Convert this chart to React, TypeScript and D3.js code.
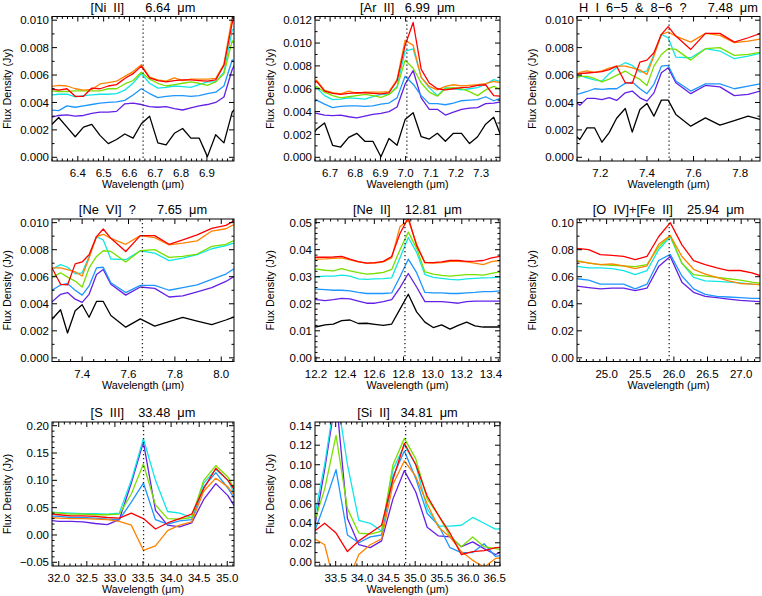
import React from "react";
import * as d3 from "d3";

const W = 762;
const H = 596;
const FONT = "'Liberation Sans', Arial, Helvetica, sans-serif";

// line colours, faintest (black) to brightest (red)
const seriesColors = ["#000000", "#6420e6", "#1e96ff", "#10e6e6", "#78e000", "#ff8200", "#ff0000"];

// ---- SL2 spectrum (used by [Ni II] and [Ar II]), flux in mJy ----
const wlSL2 = [6.294, 6.326, 6.358, 6.39, 6.422, 6.454, 6.486, 6.518, 6.55, 6.582, 6.614, 6.646, 6.678, 6.71, 6.742, 6.774, 6.806, 6.838, 6.87, 6.902, 6.934, 6.966, 6.998, 7.03, 7.062, 7.094, 7.126, 7.158, 7.19, 7.222, 7.254, 7.286, 7.318, 7.35, 7.382];
const sl2Black = [2.3, 2.9, 2.2, 1.5, 2.2, 2.4, 1.6, 1.0, 1.3, 1.7, 1.4, 2.45, 3.0, 1.05, 0.9, 1.75, 2.1, 1.4, 1.4, 0.05, 1.65, 1.05, 3.3, 3.9, 1.8, 1.6, 2.1, 1.4, 2.1, 2.1, 1.2, 1.8, 2.9, 3.5, 1.7];
const sl2Violet = [2.9, 3.05, 3.1, 3.0, 3.05, 3.2, 3.3, 3.3, 3.35, 3.9, 3.95, 3.85, 3.7, 3.65, 3.7, 3.55, 3.45, 3.6, 3.75, 3.85, 4.0, 4.4, 6.4, 7.6, 5.2, 4.2, 4.2, 3.7, 3.95, 4.2, 4.3, 4.35, 4.7, 4.75, 4.85];
const sl2Blue = [3.45, 3.4, 3.75, 3.65, 3.75, 3.85, 3.95, 4.0, 4.05, 4.15, 4.55, 5.0, 4.65, 4.35, 4.45, 4.5, 4.5, 4.45, 4.5, 4.65, 4.75, 5.2, 7.1, 6.4, 5.4, 4.7, 4.7, 4.6, 4.75, 4.95, 5.0, 5.05, 5.3, 4.95, 5.2];
const sl2Cyan = [4.55, 4.6, 4.6, 4.4, 4.5, 4.55, 4.6, 4.6, 4.65, 4.9, 5.4, 6.1, 5.4, 5.05, 5.1, 5.2, 5.15, 5.1, 5.3, 5.5, 5.5, 6.2, 9.3, 9.5, 7.0, 6.1, 5.4, 6.1, 6.0, 5.9, 6.0, 6.1, 6.4, 6.8, 6.6];
const sl2Green = [4.85, 4.8, 4.8, 4.85, 4.85, 4.85, 4.85, 5.0, 5.0, 5.35, 5.6, 6.2, 5.7, 5.4, 5.2, 5.3, 5.4, 5.5, 5.4, 5.25, 5.5, 6.1, 8.5, 7.8, 6.5, 5.7, 5.35, 6.0, 6.1, 6.0, 5.75, 5.4, 5.9, 6.2, 5.9];
const sl2Orange = [5.15, 5.25, 5.2, 5.0, 4.9, 4.95, 5.35, 5.45, 5.55, 5.9, 6.25, 6.75, 5.85, 5.65, 5.55, 5.8, 5.6, 5.7, 5.7, 5.7, 5.75, 6.8, 10.25, 9.8, 7.0, 6.2, 5.9, 6.2, 6.35, 6.25, 6.3, 6.35, 6.45, 6.65, 6.5];
const sl2Red = [5.0, 4.9, 5.0, 4.45, 4.45, 5.05, 5.0, 5.2, 5.3, 5.75, 6.1, 6.65, 5.8, 5.6, 5.5, 5.6, 5.65, 5.65, 5.6, 5.55, 5.65, 6.7, 9.8, 11.8, 7.7, 6.5, 6.0, 5.9, 6.0, 6.1, 6.15, 6.3, 6.35, 5.4, 5.35];

// ---- SL2/SL1 junction (used by H I 6-5 and [Ne VI]) ----
const wlSL1 = [7.08, 7.112, 7.143, 7.175, 7.207, 7.238, 7.27, 7.307, 7.337, 7.37, 7.4, 7.43, 7.462, 7.491, 7.524, 7.588, 7.651, 7.713, 7.775, 7.834, 7.896, 7.959, 8.02, 8.082];
const sl1Black = [1.8, 1.3, 2.15, 2.15, 1.1, 1.8, 2.85, 3.56, 1.84, 3.49, 3.93, 3.0, 4.17, 4.17, 3.13, 2.27, 2.88, 2.35, 2.68, 3.0, 2.72, 2.45, 2.8, 3.2];
const sl1Violet = [4.2, 3.8, 4.3, 4.3, 4.2, 4.35, 4.15, 4.7, 4.83, 4.34, 4.1, 4.7, 6.17, 6.53, 5.44, 4.64, 5.24, 5.14, 4.5, 4.59, 4.88, 5.19, 5.65, 6.3];
const sl1Blue = [4.55, 4.65, 4.8, 5.0, 4.95, 5.0, 5.0, 5.39, 5.49, 5.0, 4.64, 5.32, 6.65, 6.7, 5.56, 4.83, 5.36, 5.36, 5.0, 5.19, 5.39, 5.8, 6.2, 6.9];
const sl1Cyan = [5.8, 5.95, 5.8, 5.65, 5.55, 6.1, 6.55, 6.9, 6.7, 6.22, 6.29, 7.5, 8.97, 8.72, 7.31, 7.26, 7.92, 7.75, 7.19, 7.38, 7.63, 8.07, 8.3, 8.65];
const sl1Green = [5.65, 5.9, 5.9, 5.75, 5.5, 5.7, 5.97, 6.29, 5.97, 5.68, 5.24, 6.65, 7.5, 7.92, 7.87, 7.09, 7.92, 8.0, 7.43, 7.5, 7.68, 8.24, 8.4, 8.9];
const sl1Orange = [5.8, 6.2, 6.3, 6.2, 6.3, 6.5, 6.65, 6.65, 6.53, 6.36, 6.05, 7.38, 8.97, 9.14, 8.84, 8.4, 9.04, 8.89, 8.36, 8.48, 8.65, 9.38, 9.55, 10.1];
const sl1Red = [5.95, 6.1, 6.15, 6.2, 6.25, 6.4, 6.65, 5.44, 5.39, 6.95, 7.09, 7.63, 8.97, 9.53, 8.84, 7.87, 9.04, 9.04, 8.4, 8.72, 9.09, 9.57, 9.8, 10.4];

// ---- SH spectrum around [Ne II] ----
const wlSH = [12.147, 12.204, 12.262, 12.319, 12.376, 12.433, 12.49, 12.547, 12.604, 12.662, 12.719, 12.776, 12.833, 12.89, 12.947, 13.004, 13.062, 13.119, 13.176, 13.233, 13.29, 13.347, 13.404, 13.462];
const shBlack = [11.4, 11.5, 12.2, 12.5, 13.8, 14.0, 12.7, 12.8, 12.4, 12.0, 12.5, 18.0, 23.5, 17.0, 13.2, 11.2, 12.2, 10.6, 12.0, 13.2, 11.8, 11.4, 11.4, 11.4];
const shViolet = [21.5, 21.5, 21.2, 21.5, 22.0, 21.8, 21.0, 20.2, 20.2, 20.8, 21.5, 26.0, 31.2, 26.2, 20.8, 20.8, 20.8, 20.5, 20.2, 20.8, 21.0, 21.0, 21.0, 21.0];
const shBlue = [25.5, 25.4, 25.2, 25.0, 25.0, 24.8, 24.2, 23.8, 23.8, 23.8, 24.0, 30.0, 36.5, 31.5, 24.2, 24.0, 24.0, 23.8, 23.8, 24.0, 24.2, 24.5, 24.5, 24.8];
const shCyan = [30.0, 30.0, 30.2, 30.2, 30.6, 30.2, 29.2, 29.0, 29.2, 29.3, 29.6, 37.0, 44.5, 39.0, 30.8, 29.8, 29.4, 29.0, 28.8, 29.2, 29.4, 29.6, 29.7, 29.9];
const shGreen = [33.0, 32.8, 32.4, 32.2, 33.0, 32.2, 31.5, 31.0, 31.2, 31.6, 32.7, 40.0, 46.5, 40.5, 31.8, 31.0, 30.5, 30.2, 30.5, 30.8, 30.8, 30.6, 31.2, 31.8];
const shOrange = [36.5, 36.5, 36.6, 36.8, 37.0, 36.2, 35.5, 35.0, 35.0, 35.5, 37.0, 48.5, 51.0, 42.0, 35.2, 35.0, 35.2, 35.7, 35.7, 35.5, 35.0, 34.5, 35.6, 36.0];
const shRed = [37.0, 37.2, 37.2, 37.3, 37.5, 36.5, 35.6, 35.0, 35.2, 35.7, 37.5, 46.0, 51.8, 41.5, 35.2, 35.2, 35.5, 36.0, 36.0, 35.7, 35.8, 36.0, 37.0, 37.5];

// ---- LH spectrum around [O IV]+[Fe II] (no faint black curve) ----
const wlLH1 = [24.56, 24.733, 24.906, 25.08, 25.253, 25.426, 25.6, 25.773, 25.946, 26.119, 26.293, 26.466, 26.639, 26.812, 26.986, 27.159, 27.332];
const lh1Violet = [53, 52, 51, 51.5, 51.5, 49.8, 51.5, 67.5, 75, 56, 48.5, 45.5, 44.5, 43.5, 42.5, 42, 41.5];
const lh1Blue = [58.5, 57.5, 54.5, 54.5, 54.5, 51, 54.5, 72, 76.5, 60.5, 51, 47, 45.5, 45, 44.5, 44, 44];
const lh1Cyan = [67.7, 66.5, 66.5, 66, 64.5, 61.5, 64.5, 80, 89.5, 70, 59.5, 57, 56.5, 56, 55.5, 54.5, 54];
const lh1Green = [71.9, 70, 69, 68.5, 68, 67.5, 69, 82, 90.5, 70, 61.5, 60.5, 59.5, 58.5, 57.5, 56, 55];
const lh1Orange = [71.4, 70.2, 69, 69.5, 68, 66, 68, 84, 90.5, 75, 65.5, 62, 59.5, 57, 55, 54.5, 54];
const lh1Red = [81, 80, 76.3, 75.8, 75, 72.6, 75, 89.6, 100, 83.6, 71.9, 69, 66.5, 64.6, 64.6, 62.9, 60];

// ---- LH spectrum around [S III] and [Si II] ----
const wlLH2 = [31.79, 32.004, 32.218, 32.433, 32.648, 32.863, 33.078, 33.292, 33.507, 33.722, 33.937, 34.152, 34.366, 34.581, 34.796, 35.011, 35.226, 35.44, 35.656, 35.87, 36.085, 36.3, 36.515, 36.73];
const lh2Violet = [27, 25, 25, 24, 21, 19, 28, 95, 170, 45, 18, 15, 22, 65, 94, 72, 36, 27, 26, 16, 21, 14, 8, 13];
const lh2Blue = [35, 34, 32, 32, 31, 29, 28, 60, 95, 28, 20, 26, 28, 88, 114, 86, 50, 38, 15, 10, 10, 19, 6, 8];
const lh2Cyan = [42, 41, 40, 39, 39, 38, 40, 100, 176, 100, 43, 40, 32, 95, 120, 100, 55, 37, 37, 38, 46, 40, 34, 35];
const lh2Green = [42, 40, 38, 38, 37, 37, 38, 75, 130, 55, 30, 29, 32, 100, 127, 106, 65, 48, 27, 16, 26, 16, 14, 12];
const lh2Orange = [32, 31, 30, 30, 29, 28, 25, 18, -28, -20, 8, 18, 24, 80, 104, 88, 60, 36, 26, 11, 2, -5, 4, 5];
const lh2Red = [39, 37, 35, 35, 34, 32, 31, 40, 30, 11, 22, 30, 38, 85, 122, 100, 68, 48, 30, 8, 11, 12, 15, 16];

// ---- panel texts, ranges and ticks ----
const panelTitles = [
  "[Ni  II]      6.64  μm",
  "[Ar  II]   6.99  μm",
  "H  I  6−5  &  8−6  ?      7.48  μm",
  "[Ne  VI]  ?      7.65  μm",
  "[Ne  II]    12.81  μm",
  "[O  IV]+[Fe  II]    25.94  μm",
  "[S  III]    33.48  μm",
  "[Si  II]   34.81  μm",
];
const lineMarks = [6.653, 7.005, 7.495, 7.66, 12.81, 25.93, 33.51, 34.82];
const xRanges = [[6.3, 7.005], [6.64, 7.375], [7.1, 7.885], [7.27, 8.055], [12.193, 13.462], [24.56, 27.28], [31.88, 35.12], [33.11, 36.6]];
const xTickVals = [
  [6.4, 6.5, 6.6, 6.7, 6.8, 6.9],
  [6.7, 6.8, 6.9, 7.0, 7.1, 7.2, 7.3],
  [7.2, 7.4, 7.6, 7.8],
  [7.4, 7.6, 7.8, 8.0],
  [12.2, 12.4, 12.6, 12.8, 13.0, 13.2, 13.4],
  [25.0, 25.5, 26.0, 26.5, 27.0],
  [32.0, 32.5, 33.0, 33.5, 34.0, 34.5, 35.0],
  [33.5, 34.0, 34.5, 35.0, 35.5, 36.0, 36.5],
];
const xMinorCounts = [5, 5, 4, 4, 4, 5, 5, 5];
const yTickVals = [
  [0, 0.002, 0.004, 0.006, 0.008, 0.01],
  [0, 0.002, 0.004, 0.006, 0.008, 0.01, 0.012],
  [0, 0.002, 0.004, 0.006, 0.008, 0.01],
  [0, 0.002, 0.004, 0.006, 0.008, 0.01],
  [0, 0.01, 0.02, 0.03, 0.04, 0.05],
  [0, 0.02, 0.04, 0.06, 0.08, 0.1],
  [-0.05, 0, 0.05, 0.1, 0.15, 0.2],
  [0, 0.02, 0.04, 0.06, 0.08, 0.1, 0.12, 0.14],
];
const yMinorCounts = [2, 2, 2, 2, 5, 2, 5, 2];
const yFormats = [".3f", ".3f", ".3f", ".3f", ".2f", ".2f", ".2f", ".2f"];

// which spectrum each panel shows
const spectra = [
  { wl: wlSL2, flux: [sl2Black, sl2Violet, sl2Blue, sl2Cyan, sl2Green, sl2Orange, sl2Red] },
  { wl: wlSL1, flux: [sl1Black, sl1Violet, sl1Blue, sl1Cyan, sl1Green, sl1Orange, sl1Red] },
  { wl: wlSH, flux: [shBlack, shViolet, shBlue, shCyan, shGreen, shOrange, shRed] },
  { wl: wlLH1, flux: [null, lh1Violet, lh1Blue, lh1Cyan, lh1Green, lh1Orange, lh1Red] },
  { wl: wlLH2, flux: [null, lh2Violet, lh2Blue, lh2Cyan, lh2Green, lh2Orange, lh2Red] },
];
const panelSpectrum = [0, 0, 1, 1, 2, 3, 4, 4];

// layout (pixels)
const colX = [[52, 234], [315, 500], [577, 760]];
const rowY = [[16.5, 161], [219, 361.5], [422, 566]];

function minorValues(dom: number[], major: number[], n: number) {
  const step = (major[1] - major[0]) / n;
  const lo = Math.ceil(dom[0] / step - 1e-6);
  const hi = Math.floor(dom[1] / step + 1e-6);
  return d3.range(lo, hi + 1).map((k) => k * step).filter((v) => !major.some((m) => Math.abs(m - v) < step / 10));
}

function Panel({ i }: { i: number }) {
  const [x0, x1] = colX[i % 3];
  const [y0, y1] = rowY[Math.floor(i / 3)];
  const yt = yTickVals[i];
  const pad = (yt[yt.length - 1] - yt[0]) * 0.027;
  const x = d3.scaleLinear().domain(xRanges[i]).range([x0, x1]);
  const y = d3.scaleLinear().domain([yt[0] - pad, yt[yt.length - 1] + pad]).range([y1, y0]);
  const spec = spectra[panelSpectrum[i]];
  const xMinor = minorValues(x.domain(), xTickVals[i], xMinorCounts[i]);
  const yMinor = minorValues(y.domain(), yt, yMinorCounts[i]);
  const fmtY = d3.format(yFormats[i]);
  const fmtX = d3.format(".1f");
  const clipId = `clip${i}`;
  const majorLen = 5;
  const minorLen = 2.5;

  return (
    <g>
      <defs>
        <clipPath id={clipId}>
          <rect x={x0} y={y0} width={x1 - x0} height={y1 - y0} />
        </clipPath>
      </defs>
      <g clipPath={`url(#${clipId})`}>
        {spec.flux.map((f, s) => {
          if (!f) return null;
          const path = d3
            .line<number>()
            .x((_, k) => x(spec.wl[k]))
            .y((d) => y(d / 1000))(f);
          return <path key={s} d={path || ""} fill="none" stroke={seriesColors[s]} strokeWidth={1.3} strokeLinejoin="round" />;
        })}
        <line x1={x(lineMarks[i])} x2={x(lineMarks[i])} y1={y0} y2={y1} stroke="#222" strokeWidth={1.3} strokeDasharray="1.3 2.7" />
      </g>
      <rect x={x0} y={y0} width={x1 - x0} height={y1 - y0} fill="none" stroke="#000" strokeWidth={1} />
      {xTickVals[i].map((v) => (
        <g key={`xt${v}`}>
          <line x1={x(v)} x2={x(v)} y1={y1} y2={y1 - majorLen} stroke="#000" />
          <line x1={x(v)} x2={x(v)} y1={y0} y2={y0 + majorLen} stroke="#000" />
          <text x={x(v)} y={y1 + 16} textAnchor="middle" fontSize={11.5}>
            {fmtX(v)}
          </text>
        </g>
      ))}
      {xMinor.map((v) => (
        <g key={`xm${v}`}>
          <line x1={x(v)} x2={x(v)} y1={y1} y2={y1 - minorLen} stroke="#000" />
          <line x1={x(v)} x2={x(v)} y1={y0} y2={y0 + minorLen} stroke="#000" />
        </g>
      ))}
      {yt.map((v) => (
        <g key={`yt${v}`}>
          <line x1={x0} x2={x0 + majorLen} y1={y(v)} y2={y(v)} stroke="#000" />
          <line x1={x1} x2={x1 - majorLen} y1={y(v)} y2={y(v)} stroke="#000" />
          <text x={x0 - 3} y={y(v)} dy="0.36em" textAnchor="end" fontSize={11.5}>
            {fmtY(v)}
          </text>
        </g>
      ))}
      {yMinor.map((v) => (
        <g key={`ym${v}`}>
          <line x1={x0} x2={x0 + minorLen} y1={y(v)} y2={y(v)} stroke="#000" />
          <line x1={x1} x2={x1 - minorLen} y1={y(v)} y2={y(v)} stroke="#000" />
        </g>
      ))}
      <text x={(x0 + x1) / 2} y={y0 - 5} textAnchor="middle" fontSize={12.8} style={{ whiteSpace: "pre" }}>
        {panelTitles[i]}
      </text>
      <text x={(x0 + x1) / 2} y={y1 + 27} textAnchor="middle" fontSize={10.8}>
        Wavelength (μm)
      </text>
      <text
        transform={`translate(${x0 - 41},${(y0 + y1) / 2}) rotate(-90)`}
        textAnchor="middle"
        fontSize={10.8}
      >
        Flux Density (Jy)
      </text>
    </g>
  );
}

export default function App() {
  return (
    <svg
      width={W}
      height={H}
      viewBox={`0 0 ${W} ${H}`}
      style={{ position: "absolute", left: 0, top: 0, background: "#fff" }}
      fontFamily={FONT}
    >
      <rect width={W} height={H} fill="#fff" />
      {panelTitles.map((_, i) => (
        <Panel key={i} i={i} />
      ))}
    </svg>
  );
}
